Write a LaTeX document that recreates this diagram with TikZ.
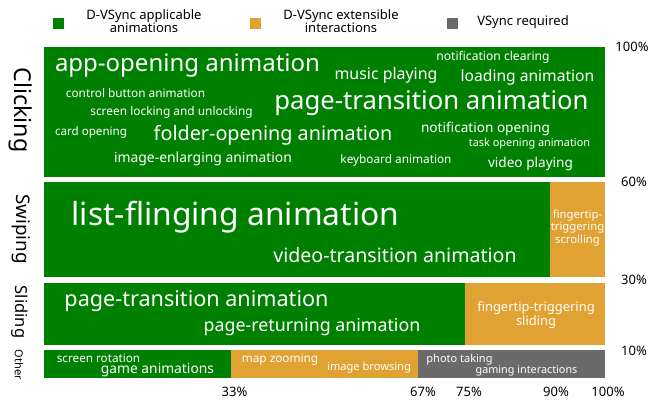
\documentclass[tikz,border=0pt]{standalone}
\usepackage{fontspec}
\setmainfont{Noto Sans}
\definecolor{appgreen}{HTML}{008000}
\definecolor{extorange}{HTML}{E0A232}
\definecolor{reqgray}{HTML}{6A6A6A}
\newcommand{\fs}[2]{\fontsize{#1}{#2}\selectfont}
\tikzset{
  wtxt/.style={text=white, inner sep=0, align=center, anchor=center},
  ktxt/.style={text=black, inner sep=0, align=center, anchor=center},
  rowlabel/.style={text=black, inner sep=0, rotate=-90, anchor=center},
  legsq/.style={fill=#1, minimum size=11pt, inner sep=0, draw=none},
  pct/.style={ktxt, font=\fs{13}{13}},
}
\begin{document}
\begin{tikzpicture}[x=1pt, y=-1pt]
\useasboundingbox (0,0) rectangle (657,400);

% legend
\node[legsq=appgreen] (lg1) at (58,23) {};
\node[ktxt, font=\fs{13}{13}] (lt1) at (144,21.5) {D-VSync applicable\\animations};
\node[legsq=extorange] (lg2) at (255,23) {};
\node[ktxt, font=\fs{13}{13}] (lt2) at (341,21.5) {D-VSync extensible\\interactions};
\node[legsq=reqgray] (lg3) at (452,23) {};
\node[ktxt, font=\fs{13}{13}] (lt3) at (523,22) {VSync required};

% bars
\fill[appgreen] (44,47) rectangle (605,177);
\fill[appgreen] (44,182) rectangle (550,277);
\fill[extorange] (550,182) rectangle (605,277);
\fill[appgreen] (44,283) rectangle (465,345);
\fill[extorange] (465,283) rectangle (605,345);
\fill[appgreen] (44,350) rectangle (231,378);
\fill[extorange] (231,350) rectangle (418,378);
\fill[reqgray] (418,350) rectangle (605,378);

% row labels
\node[rowlabel, font=\fs{23.3}{24}] (rclick) at (21,110) {Clicking};
\node[rowlabel, font=\fs{18.8}{19}] (rswipe) at (21,229) {Swiping};
\node[rowlabel, font=\fs{16.5}{17}] (rslide) at (20,312) {Sliding};
\node[rowlabel, font=\fs{11}{11}] (rother) at (19,365) {Other};

% percentages
\node[pct] (p100) at (632,47) {100\%};
\node[pct] (p60) at (634,182) {60\%};
\node[pct] (p30) at (634,280) {30\%};
\node[pct] (p10) at (634,351) {10\%};
\node[pct] (q33) at (234.5,392) {33\%};
\node[pct] (q67) at (423,392) {67\%};
\node[pct] (q75) at (469,392) {75\%};
\node[pct] (q90) at (556,392) {90\%};
\node[pct] (q100) at (608,392) {100\%};

% clicking
\node[wtxt, font=\fs{24}{24}] (c1) at (187.5,66) {app-opening animation};
\node[wtxt, font=\fs{15.9}{16}] (c2) at (386,75) {music playing};
\node[wtxt, font=\fs{12.1}{12}] (c3) at (493,57) {notification clearing};
\node[wtxt, font=\fs{15.6}{16}] (c4) at (527.5,77) {loading animation};
\node[wtxt, font=\fs{25.7}{26}] (c5) at (431.5,103) {page-transition animation};
\node[wtxt, font=\fs{11.8}{12}] (c6) at (135.5,93) {control button animation};
\node[wtxt, font=\fs{11.9}{12}] (c7) at (171.5,112) {screen locking and unlocking};
\node[wtxt, font=\fs{11.6}{12}] (c8) at (91,132) {card opening};
\node[wtxt, font=\fs{19.8}{20}] (c9) at (273,135) {folder-opening animation};
\node[wtxt, font=\fs{13.6}{14}] (c10) at (485.5,129) {notification opening};
\node[wtxt, font=\fs{10.9}{11}] (c11) at (529.5,144) {task opening animation};
\node[wtxt, font=\fs{13.9}{14}] (c12) at (203,159) {image-enlarging animation};
\node[wtxt, font=\fs{11.8}{12}] (c13) at (396,160) {keyboard animation};
\node[wtxt, font=\fs{13.6}{14}] (c14) at (530.5,164) {video playing};

% swiping
\node[wtxt, font=\fs{31.8}{32}] (s1) at (235.5,217) {list-flinging animation};
\node[wtxt, font=\fs{19.6}{20}] (s2) at (395,255) {video-transition animation};
\node[wtxt, font=\fs{11.3}{12.5}] (s3) at (577.5,228) {fingertip-\\triggering\\scrolling};

% sliding
\node[wtxt, font=\fs{21.6}{22}] (l1) at (196.5,301) {page-transition animation};
\node[wtxt, font=\fs{17.8}{18}] (l2) at (312,327) {page-returning animation};
\node[wtxt, font=\fs{12.9}{14}] (l3) at (536,315) {fingertip-triggering\\sliding};

% other
\node[wtxt, font=\fs{11.7}{12}] (o1) at (98.5,358.5) {screen rotation};
\node[wtxt, font=\fs{13.8}{14}] (o2) at (157.5,370.5) {game animations};
\node[wtxt, font=\fs{11.8}{12}] (o3) at (280,360) {map zooming};
\node[wtxt, font=\fs{11.1}{11}] (o4) at (369,368) {image browsing};
\node[wtxt, font=\fs{11}{11}] (o5) at (459.5,359.5) {photo taking};
\node[wtxt, font=\fs{10.8}{11}] (o6) at (526.5,371) {gaming interactions};
\end{tikzpicture}
\end{document}
